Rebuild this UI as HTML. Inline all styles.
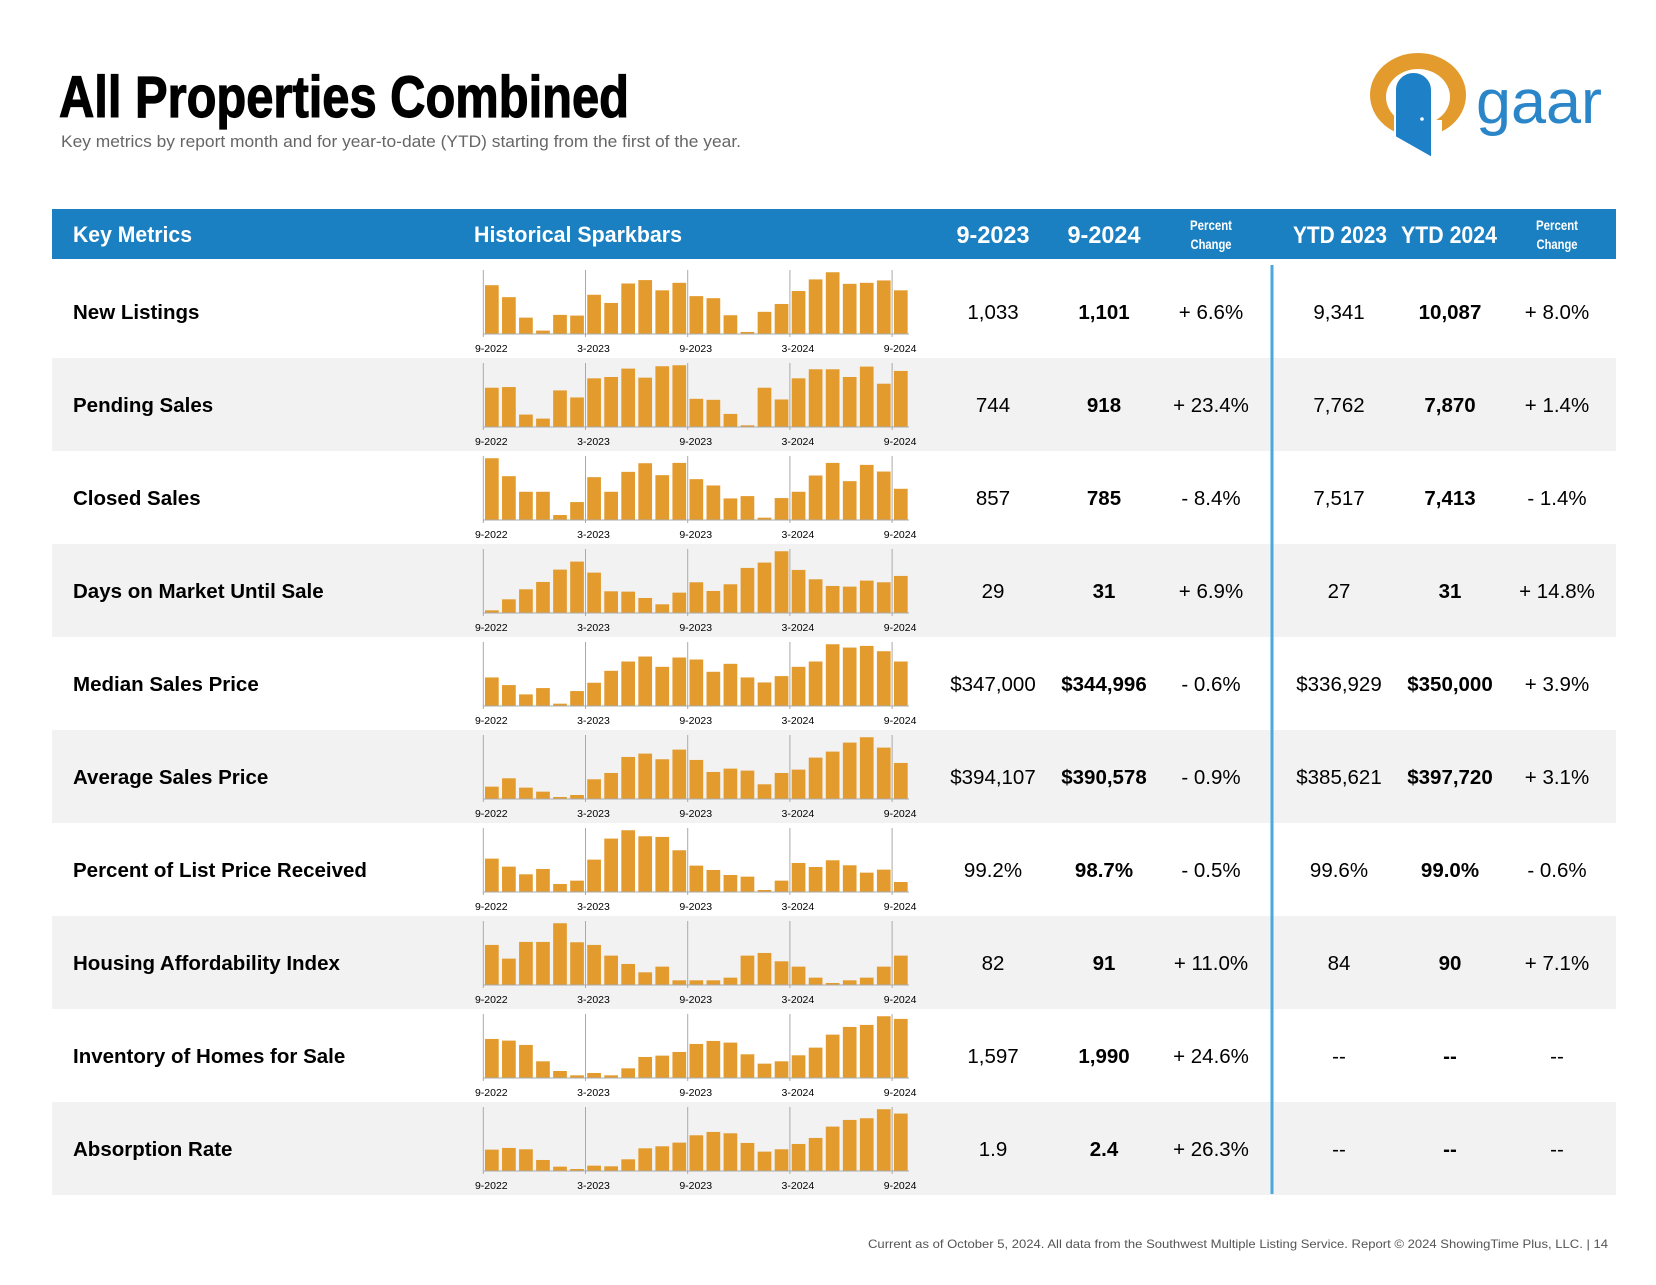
<!DOCTYPE html>
<html><head><meta charset="utf-8"><title>All Properties Combined</title>
<style>
html,body{margin:0;padding:0;background:#fff;}
body{width:1656px;height:1280px;overflow:hidden;font-family:"Liberation Sans",Arial,sans-serif;}
svg text{font-family:"Liberation Sans",Arial,sans-serif;}
</style></head>
<body>
<svg id="page" width="1656" height="1280" viewBox="0 0 1656 1280" xmlns="http://www.w3.org/2000/svg">
  <text x="59" y="117" font-size="58" font-weight="bold" fill="#000" stroke="#000" stroke-width="1.2" textLength="570" lengthAdjust="spacingAndGlyphs">All Properties Combined</text>
  <text x="61" y="147" font-size="16.5" fill="#666" textLength="680" lengthAdjust="spacingAndGlyphs">Key metrics by report month and for year-to-date (YTD) starting from the first of the year.</text>
  <g>
    <ellipse cx="1418" cy="95" rx="48" ry="42" fill="#e39b2d"/>
    <ellipse cx="1418" cy="97" rx="32" ry="28" fill="#fff"/>
    <rect x="1394" y="120" width="48" height="22" fill="#fff"/>
    <path d="M1395,137 L1395,90 A18.5,18 0 0 1 1432,90 L1432,158 Z" fill="#1e80c6" stroke="#fff" stroke-width="2"/>
    <circle cx="1422" cy="119" r="1.8" fill="#fff"/>
    <text x="1476" y="123" font-size="62" fill="#2a86c8" textLength="126" lengthAdjust="spacingAndGlyphs">gaar</text>
  </g>
  <rect x="52" y="209" width="1564" height="50" fill="#1a80c2"/>
  <g fill="#fff" font-weight="bold">
    <text x="73" y="242" font-size="22" textLength="119" lengthAdjust="spacingAndGlyphs">Key Metrics</text>
    <text x="474" y="242" font-size="22" textLength="208" lengthAdjust="spacingAndGlyphs">Historical Sparkbars</text>
    <text x="993" y="243" font-size="24" text-anchor="middle" textLength="73" lengthAdjust="spacingAndGlyphs">9-2023</text>
    <text x="1104" y="243" font-size="24" text-anchor="middle" textLength="73" lengthAdjust="spacingAndGlyphs">9-2024</text>
    <text x="1211" y="230" font-size="14" text-anchor="middle" textLength="42" lengthAdjust="spacingAndGlyphs">Percent</text>
    <text x="1211" y="249" font-size="14" text-anchor="middle" textLength="41" lengthAdjust="spacingAndGlyphs">Change</text>
    <text x="1340" y="243" font-size="24" text-anchor="middle" textLength="94" lengthAdjust="spacingAndGlyphs">YTD 2023</text>
    <text x="1449" y="243" font-size="24" text-anchor="middle" textLength="96" lengthAdjust="spacingAndGlyphs">YTD 2024</text>
    <text x="1557" y="230" font-size="14" text-anchor="middle" textLength="42" lengthAdjust="spacingAndGlyphs">Percent</text>
    <text x="1557" y="249" font-size="14" text-anchor="middle" textLength="41" lengthAdjust="spacingAndGlyphs">Change</text>
  </g>
  <g id="rows"></g>
  <line x1="1272" y1="265" x2="1272" y2="1194" stroke="#4aa8dc" stroke-width="3"/>
  <text x="1608" y="1248" font-size="12" fill="#555" text-anchor="end" textLength="740" lengthAdjust="spacingAndGlyphs">Current as of October 5, 2024. All data from the Southwest Multiple Listing Service. Report © 2024 ShowingTime Plus, LLC.  |  14</text>
</svg>
<script>
const metricNames = ["New Listings","Pending Sales","Closed Sales","Days on Market Until Sale","Median Sales Price","Average Sales Price","Percent of List Price Received","Housing Affordability Index","Inventory of Homes for Sale","Absorption Rate"];
const monthVals = ["1,033","744","857","29","$347,000","$394,107","99.2%","82","1,597","1.9"];
const monthVals2 = ["1,101","918","785","31","$344,996","$390,578","98.7%","91","1,990","2.4"];
const monthPct = ["+ 6.6%","+ 23.4%","- 8.4%","+ 6.9%","- 0.6%","- 0.9%","- 0.5%","+ 11.0%","+ 24.6%","+ 26.3%"];
const ytdVals = ["9,341","7,762","7,517","27","$336,929","$385,621","99.6%","84","--","--"];
const ytdVals2 = ["10,087","7,870","7,413","31","$350,000","$397,720","99.0%","90","--","--"];
const ytdPct = ["+ 8.0%","+ 1.4%","- 1.4%","+ 14.8%","+ 3.9%","+ 3.1%","- 0.6%","+ 7.1%","--","--"];
const tickLabels = ["9-2022","3-2023","9-2023","3-2024","9-2024"];
const sNewListings = [143,108,48,10,56,54,115,91,148,158,128,150,111,105,55,6,65,88,126,160,181,147,150,157,128];
const sPending = [117,119,37,25,109,88,145,149,174,147,181,184,84,81,39,5,117,82,145,172,172,149,180,129,167];
const sClosed = [186,132,85,85,15,54,129,85,145,171,135,172,123,104,65,72,7,66,85,134,172,117,166,146,94];
const sDom = [8,41,71,93,130,154,121,65,64,45,26,61,92,66,86,135,151,185,129,101,81,79,97,92,111];
const sMedian = [86,63,35,54,7,45,70,106,134,149,118,146,140,103,127,86,71,90,118,134,186,176,181,165,134];
const sAverage = [37,62,34,22,6,12,59,78,126,136,119,148,117,81,91,85,44,78,88,124,142,169,185,154,108];
const sPctList = [100,76,53,69,24,34,97,160,185,167,165,125,79,66,51,46,6,34,87,75,95,80,58,67,30];
const sHai = [120,79,129,129,185,128,120,88,63,38,55,14,14,14,22,88,96,71,55,22,6,14,22,55,88];
const sInventory = [117,112,99,50,21,8,15,8,29,63,67,78,102,111,106,71,43,50,68,91,130,153,159,185,177];
const sAbsorption = [64,69,65,33,13,6,16,14,35,68,74,85,107,117,113,84,58,65,81,99,133,153,158,185,172];
const series = [sNewListings,sPending,sClosed,sDom,sMedian,sAverage,sPctList,sHai,sInventory,sAbsorption];

const NS = "http://www.w3.org/2000/svg";
const rowsG = document.getElementById("rows");
function mk(tag, attrs){const e=document.createElementNS(NS,tag);for(const k in attrs)e.setAttribute(k,attrs[k]);return e;}
const ROW_H = 93, ROW0 = 265;
const X0 = 483.3, PITCH = 17.04, BARW = 13.7, CH = 64;
function xScale(i){return X0 + 1.7 + PITCH*i;}
function slug(s){return s.toLowerCase().replace(/[^a-z0-9]+/g,'-').replace(/-$/,'');}

metricNames.forEach((name, r) => {
  const top = ROW0 + ROW_H*r;
  const g = mk("g",{});
  
  
  if (r % 2 === 1) {
    const bg = mk("rect",{x:52,y:top,width:1564,height:ROW_H,fill:"#f2f2f2"});
    
    
    g.appendChild(bg);
  }
  const lbl = mk("text",{x:73,y:top+54,"font-size":"20.5","font-weight":"bold",fill:"#000"});
  lbl.textContent = name;
  
  
  g.appendChild(lbl);
  const vals = series[r];
  const yMax = Math.max(...vals)/0.965;
  const base = top + 69;
  const yScale = v => base - (v / yMax) * CH;
  const chart = mk("g",{});
  
  
  for (let k=0;k<5;k++){
    const gx = X0 + 102.2*k;
    const gl = mk("line",{x1:gx,y1:top+5,x2:gx,y2:base+3,stroke:"#aaa","stroke-width":1});
    
    
    chart.appendChild(gl);
  }
  vals.forEach((v,i) => {
    const y = yScale(v);
    const b = mk("rect",{x:xScale(i),y:y,width:BARW,height:base-y,fill:"#e39b2d"});
    
    
    chart.appendChild(b);
  });
  const bl = mk("line",{x1:X0,y1:base,x2:909,y2:base,stroke:"#aaa","stroke-width":1});
  
  
  chart.appendChild(bl);
  tickLabels.forEach((t,k) => {
    const tx = mk("text",{x:X0 + 8 + 102.2*k,y:top+87,"font-size":"10.5","text-anchor":"middle",fill:"#000"});
    tx.textContent = t;
    
    
    chart.appendChild(tx);
  });
  g.appendChild(chart);
  const cols = [[993,monthVals[r],false],[1104,monthVals2[r],true],[1211,monthPct[r],false],[1339,ytdVals[r],false],[1450,ytdVals2[r],true],[1557,ytdPct[r],false]];
  const colNames = ['value-9-2023','value-9-2024','percent-change','value-ytd-2023','value-ytd-2024','ytd-percent-change'];
  cols.forEach((c,ci) => {
    const t = mk("text",{x:c[0],y:top+54,"font-size":"20.5","text-anchor":"middle",fill:"#000"});
    if (c[2]) t.setAttribute("font-weight","bold");
    t.textContent = c[1];
    
    
    g.appendChild(t);
  });
  rowsG.appendChild(g);
});
</script>
</body></html>
